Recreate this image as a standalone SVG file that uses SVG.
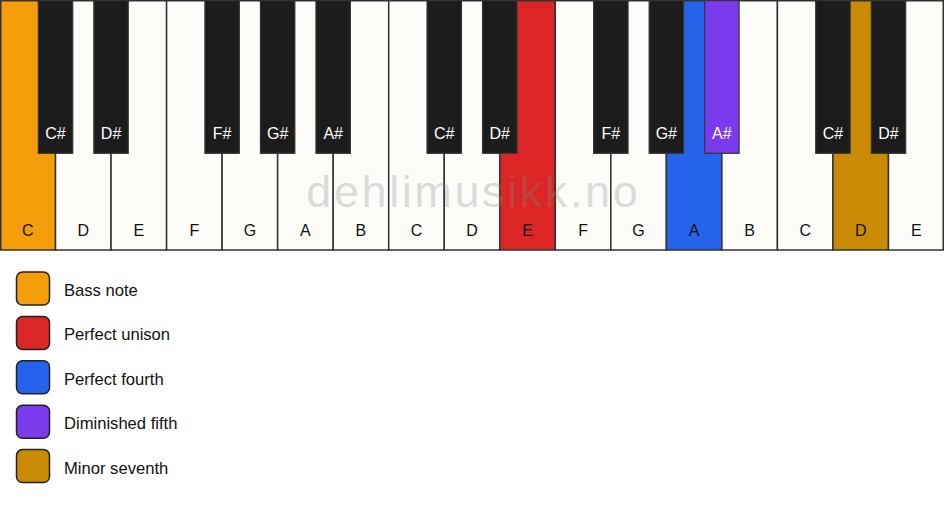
<svg xmlns="http://www.w3.org/2000/svg" width="944" height="506" viewBox="0 0 944 506">
<style>
.w{fill:#fdfcf9;stroke:#333;stroke-width:1.5}
.b{fill:#1c1c1c;stroke:#333;stroke-width:1.2}
.lw{font-family:"Liberation Sans",Arial,sans-serif;font-size:16px;fill:#111;text-anchor:middle}
.lb{font-family:"Liberation Sans",Arial,sans-serif;font-size:16px;fill:#fff;text-anchor:middle}
.sw{stroke:#222;stroke-width:1.5}
.lt{font-family:"Liberation Sans",Arial,sans-serif;font-size:16.6px;fill:#111}
.wm{font-family:"Liberation Sans",Arial,sans-serif;font-size:45px;letter-spacing:2.6px;fill:#888;fill-opacity:0.3;text-anchor:middle}
</style>
<rect width="944" height="506" fill="#ffffff"/>
<g id="white-keys">
<g id="key-C1"><rect class="w" x="0.75" y="0.75" width="54.78" height="249.25" style="fill:#f59e0b"/><text class="lw" x="27.76" y="236">C</text></g>
<g id="key-D1"><rect class="w" x="55.53" y="0.75" width="55.53" height="249.25"/><text class="lw" x="83.29" y="236">D</text></g>
<g id="key-E1"><rect class="w" x="111.06" y="0.75" width="55.53" height="249.25"/><text class="lw" x="138.82" y="236">E</text></g>
<g id="key-F1"><rect class="w" x="166.59" y="0.75" width="55.53" height="249.25"/><text class="lw" x="194.35" y="236">F</text></g>
<g id="key-G1"><rect class="w" x="222.12" y="0.75" width="55.53" height="249.25"/><text class="lw" x="249.88" y="236">G</text></g>
<g id="key-A1"><rect class="w" x="277.65" y="0.75" width="55.53" height="249.25"/><text class="lw" x="305.41" y="236">A</text></g>
<g id="key-B1"><rect class="w" x="333.18" y="0.75" width="55.53" height="249.25"/><text class="lw" x="360.94" y="236">B</text></g>
<g id="key-C2"><rect class="w" x="388.71" y="0.75" width="55.53" height="249.25"/><text class="lw" x="416.47" y="236">C</text></g>
<g id="key-D2"><rect class="w" x="444.24" y="0.75" width="55.53" height="249.25"/><text class="lw" x="472" y="236">D</text></g>
<g id="key-E2"><rect class="w" x="499.76" y="0.75" width="55.53" height="249.25" style="fill:#dc2626"/><text class="lw" x="527.53" y="236">E</text></g>
<g id="key-F2"><rect class="w" x="555.29" y="0.75" width="55.53" height="249.25"/><text class="lw" x="583.06" y="236">F</text></g>
<g id="key-G2"><rect class="w" x="610.82" y="0.75" width="55.53" height="249.25"/><text class="lw" x="638.59" y="236">G</text></g>
<g id="key-A2"><rect class="w" x="666.35" y="0.75" width="55.53" height="249.25" style="fill:#2563eb"/><text class="lw" x="694.12" y="236">A</text></g>
<g id="key-B2"><rect class="w" x="721.88" y="0.75" width="55.53" height="249.25"/><text class="lw" x="749.65" y="236">B</text></g>
<g id="key-C3"><rect class="w" x="777.41" y="0.75" width="55.53" height="249.25"/><text class="lw" x="805.18" y="236">C</text></g>
<g id="key-D3"><rect class="w" x="832.94" y="0.75" width="55.53" height="249.25" style="fill:#ca8a04"/><text class="lw" x="860.71" y="236">D</text></g>
<g id="key-E3"><rect class="w" x="888.47" y="0.75" width="54.78" height="249.25"/><text class="lw" x="916.24" y="236">E</text></g>
</g>
<g id="black-keys">
<g id="key-Cs1"><rect class="b" x="38.33" y="0.6" width="34.4" height="152.7"/><text class="lb" x="55.53" y="139">C#</text></g>
<g id="key-Ds1"><rect class="b" x="93.86" y="0.6" width="34.4" height="152.7"/><text class="lb" x="111.06" y="139">D#</text></g>
<g id="key-Fs1"><rect class="b" x="204.92" y="0.6" width="34.4" height="152.7"/><text class="lb" x="222.12" y="139">F#</text></g>
<g id="key-Gs1"><rect class="b" x="260.45" y="0.6" width="34.4" height="152.7"/><text class="lb" x="277.65" y="139">G#</text></g>
<g id="key-As1"><rect class="b" x="315.98" y="0.6" width="34.4" height="152.7"/><text class="lb" x="333.18" y="139">A#</text></g>
<g id="key-Cs2"><rect class="b" x="427.04" y="0.6" width="34.4" height="152.7"/><text class="lb" x="444.24" y="139">C#</text></g>
<g id="key-Ds2"><rect class="b" x="482.56" y="0.6" width="34.4" height="152.7"/><text class="lb" x="499.76" y="139">D#</text></g>
<g id="key-Fs2"><rect class="b" x="593.62" y="0.6" width="34.4" height="152.7"/><text class="lb" x="610.82" y="139">F#</text></g>
<g id="key-Gs2"><rect class="b" x="649.15" y="0.6" width="34.4" height="152.7"/><text class="lb" x="666.35" y="139">G#</text></g>
<g id="key-As2"><rect class="b" x="704.68" y="0.6" width="34.4" height="152.7" style="fill:#7c3aed"/><text class="lb" x="721.88" y="139">A#</text></g>
<g id="key-Cs3"><rect class="b" x="815.74" y="0.6" width="34.4" height="152.7"/><text class="lb" x="832.94" y="139">C#</text></g>
<g id="key-Ds3"><rect class="b" x="871.27" y="0.6" width="34.4" height="152.7"/><text class="lb" x="888.47" y="139">D#</text></g>
</g>
<text class="wm" x="473.3" y="207">dehlimusikk.no</text>
<g id="legend">
<g id="legend-bass"><rect class="sw" x="16.5" y="272" width="33" height="33" rx="6" fill="#f59e0b"/><text class="lt" x="64" y="296">Bass note</text></g>
<g id="legend-unison"><rect class="sw" x="16.5" y="316.4" width="33" height="33" rx="6" fill="#dc2626"/><text class="lt" x="64" y="340.4">Perfect unison</text></g>
<g id="legend-fourth"><rect class="sw" x="16.5" y="360.8" width="33" height="33" rx="6" fill="#2563eb"/><text class="lt" x="64" y="384.8">Perfect fourth</text></g>
<g id="legend-dim5"><rect class="sw" x="16.5" y="405.2" width="33" height="33" rx="6" fill="#7c3aed"/><text class="lt" x="64" y="429.2">Diminished fifth</text></g>
<g id="legend-min7"><rect class="sw" x="16.5" y="449.6" width="33" height="33" rx="6" fill="#ca8a04"/><text class="lt" x="64" y="473.6">Minor seventh</text></g>
</g>
<g id="connectors"/>
</svg>
